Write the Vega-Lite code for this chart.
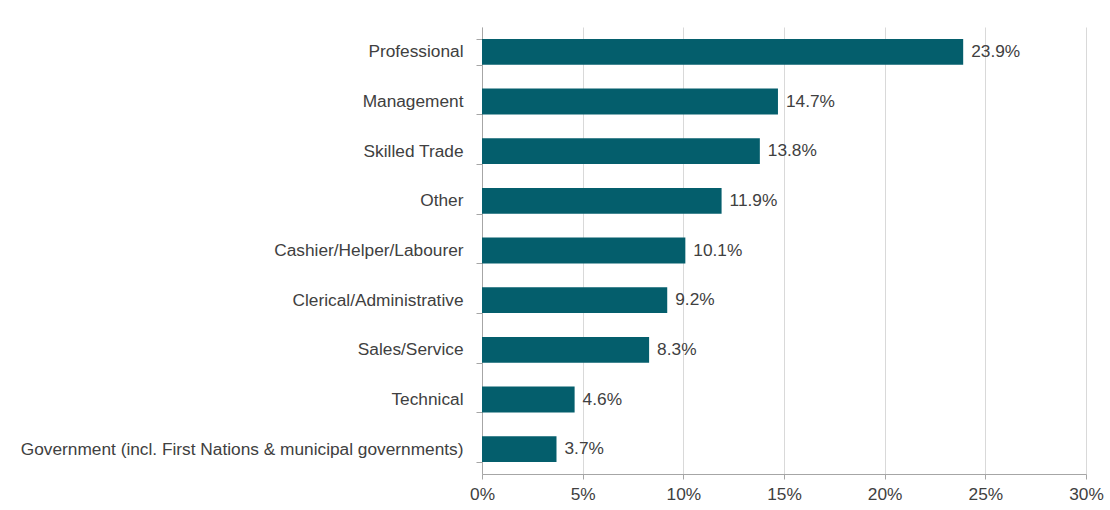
{
  "$schema": "https://vega.github.io/schema/vega-lite/v6.json",
  "autosize": "none",
  "width": 604,
  "height": 447,
  "padding": {"left": 482, "top": 27, "right": 24, "bottom": 36},
  "background": "white",
  "data": {
    "values": [
      {"category": "Professional", "value": 23.9},
      {"category": "Management", "value": 14.7},
      {"category": "Skilled Trade", "value": 13.8},
      {"category": "Other", "value": 11.9},
      {"category": "Cashier/Helper/Labourer", "value": 10.1},
      {"category": "Clerical/Administrative", "value": 9.2},
      {"category": "Sales/Service", "value": 8.3},
      {"category": "Technical", "value": 4.6},
      {"category": "Government (incl. First Nations & municipal governments)", "value": 3.7}
    ]
  },
  "transform": [{"calculate": "format(datum.value, '.1f') + '%'", "as": "label"}],
  "encoding": {
    "y": {
      "field": "category",
      "type": "nominal",
      "sort": {"field": "value", "order": "descending"},
      "scale": {"paddingInner": 0.48, "paddingOuter": 0.24},
      "axis": {
        "title": null,
        "tickBand": "extent",
        "tickSize": 6,
        "tickColor": "#a6a6a6",
        "domainColor": "#a6a6a6",
        "labelFont": "Liberation Sans",
        "labelFontSize": 17.3,
        "labelColor": "#404040",
        "labelPadding": 13,
        "labelLimit": 0,
        "grid": false
      }
    },
    "x": {
      "field": "value",
      "type": "quantitative",
      "scale": {"domain": [0, 30], "nice": false},
      "axis": {
        "title": null,
        "values": [0, 5, 10, 15, 20, 25, 30],
        "labelExpr": "datum.value + '%'",
        "grid": true,
        "gridColor": "#d9d9d9",
        "tickSize": 5,
        "tickColor": "#a6a6a6",
        "domainColor": "#a6a6a6",
        "labelFont": "Liberation Sans",
        "labelFontSize": 17.3,
        "labelColor": "#404040",
        "labelPadding": 6,
        "labelFlush": false
      }
    }
  },
  "layer": [
    {"mark": {"type": "bar", "color": "#045e6c"}},
    {
      "mark": {"type": "text", "align": "left", "baseline": "middle", "dx": 8, "font": "Liberation Sans", "fontSize": 17.3, "color": "#404040"},
      "encoding": {"text": {"field": "label", "type": "nominal"}}
    }
  ],
  "config": {"view": {"stroke": null}}
}
